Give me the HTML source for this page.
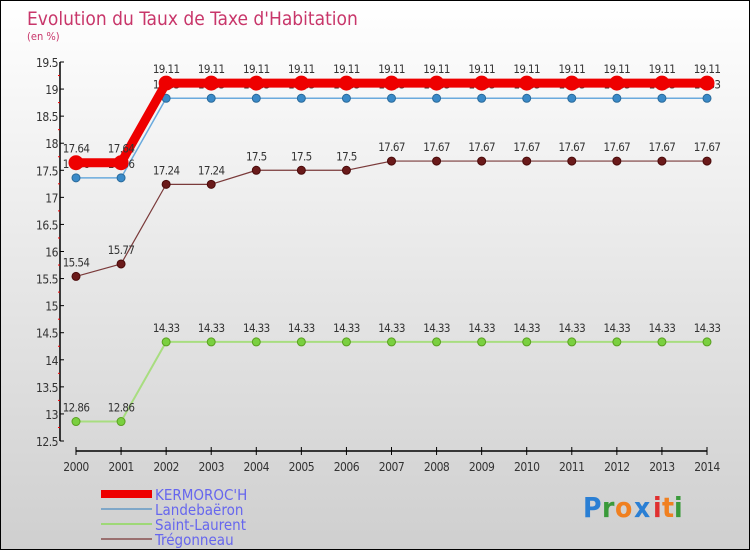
<!DOCTYPE html>
<html><head><meta charset="utf-8"><style>
body{margin:0}
#c{width:750px;height:550px;position:relative;box-sizing:border-box;border:1px solid #000;background:linear-gradient(#ffffff,#cfcfcf);font-family:"DejaVu Sans Condensed","Liberation Sans",sans-serif;overflow:hidden}
svg text{font-family:"DejaVu Sans Condensed","Liberation Sans",sans-serif}
</style></head><body>
<div id="c">
<svg id="s" width="750" height="550">
<text x="26" y="24" font-size="19" fill="#c8366a">Evolution du Taux de Taxe d'Habitation</text>
<text x="26" y="39" font-size="11" fill="#c8366a">(en %)</text>
<g id="g"></g>
<g>
<rect x="100" y="489" width="51" height="8" fill="#e00"/>
<text x="154" y="499" font-size="15" fill="#6666ee">KERMOROC'H</text>
<rect x="100" y="507" width="51" height="2" fill="#7fa7c8"/>
<text x="154" y="514" font-size="15" fill="#6666ee">Landebaëron</text>
<rect x="100" y="522" width="51" height="2" fill="#9ed877"/>
<text x="154" y="529" font-size="15" fill="#6666ee">Saint-Laurent</text>
<rect x="100" y="537" width="51" height="2" fill="#9a7070"/>
<text x="154" y="544" font-size="15" fill="#6666ee">Trégonneau</text>
</g>
<g font-size="28" font-weight="bold">
<text x="582" y="516" fill="#2a7fd4">P</text><text x="601" y="516" fill="#3a9a3a">r</text><text x="614" y="516" fill="#f08020">o</text><text x="633" y="516" fill="#2a7fd4">x</text><text x="652" y="516" fill="#e03030">i</text><text x="661" y="516" fill="#f08020">t</text><text x="673" y="516" fill="#3a9a3a">i</text>
</g>
</svg>
</div>
<script>
const years=[2000,2001,2002,2003,2004,2005,2006,2007,2008,2009,2010,2011,2012,2013,2014];
const kermoroch=[17.64,17.64,19.11,19.11,19.11,19.11,19.11,19.11,19.11,19.11,19.11,19.11,19.11,19.11,19.11];
const landebaeron=[17.36,17.36,18.83,18.83,18.83,18.83,18.83,18.83,18.83,18.83,18.83,18.83,18.83,18.83,18.83];
const saintLaurent=[12.86,12.86,14.33,14.33,14.33,14.33,14.33,14.33,14.33,14.33,14.33,14.33,14.33,14.33,14.33];
const tregonneau=[15.54,15.77,17.24,17.24,17.5,17.5,17.5,17.67,17.67,17.67,17.67,17.67,17.67,17.67,17.67];
const yTicks=[12.5,13,13.5,14,14.5,15,15.5,16,16.5,17,17.5,18,18.5,19,19.5];
const NS="http://www.w3.org/2000/svg";
const g=document.getElementById('g');
const x=i=>75+i*(706-75)/(years.length-1);
const y=v=>440-(v-12.5)*(440-61)/7;
function el(t,a,p){const e=document.createElementNS(NS,t);for(const k in a)e.setAttribute(k,a[k]);(p||g).appendChild(e);return e;}
let ax=el('line',{x1:59,y1:61,x2:59,y2:440,stroke:'#000','stroke-width':1.5});


let axx=el('line',{x1:75,y1:450,x2:706,y2:450,stroke:'#000','stroke-width':1.5});


yTicks.forEach(v=>{
 el('line',{x1:59,y1:y(v),x2:63,y2:y(v),stroke:'#000'});
 if(v<19.5) el('line',{x1:57,y1:y(v+0.25),x2:59,y2:y(v+0.25),stroke:'#e00'});
 const t=el('text',{x:57,y:y(v)+5,'font-size':12,fill:'#333','text-anchor':'end','letter-spacing':'-0.5'});
 t.textContent=String(v);
 
 
});
years.forEach((yr,i)=>{
 el('line',{x1:x(i),y1:446,x2:x(i),y2:454,stroke:'#000'});
 const t=el('text',{x:x(i),y:470,'font-size':12,fill:'#333','text-anchor':'middle','letter-spacing':'-0.5'});
 t.textContent=yr;
 
 
});
function series(name,data,color,w,r,dot,stroke){
 const gg=el('g',{});
 
 
 const p=el('polyline',{points:data.map((v,i)=>x(i)+','+y(v)).join(' '),fill:'none',stroke:color,'stroke-width':w,'stroke-linejoin':'round'},gg);
 
 
 data.forEach((v,i)=>{
  const c=el('circle',{cx:x(i),cy:y(v),r:r,fill:dot,stroke:stroke,'stroke-width':1},gg);
  
  
 });
 data.forEach((v,i)=>{
  const t=el('text',{x:x(i),y:y(v)-10,'font-size':11.5,fill:'#333','text-anchor':'middle','letter-spacing':'-0.6'},gg);
  t.textContent=String(v);
  
  
 });
}
series('landebaeron',landebaeron,'#6aaadd',1.5,4,'#3a8ac8','#2a6a9a');
series('saint-laurent',saintLaurent,'#a8dd80',2,4,'#7ad040','#5aa020');
series('tregonneau',tregonneau,'#7a3a3a',1.2,4,'#6a1a1a','#4a0a0a');
series('kermoroch',kermoroch,'#ee0000',9,7,'#ee0000','#ee0000');
</script>
</body></html>
